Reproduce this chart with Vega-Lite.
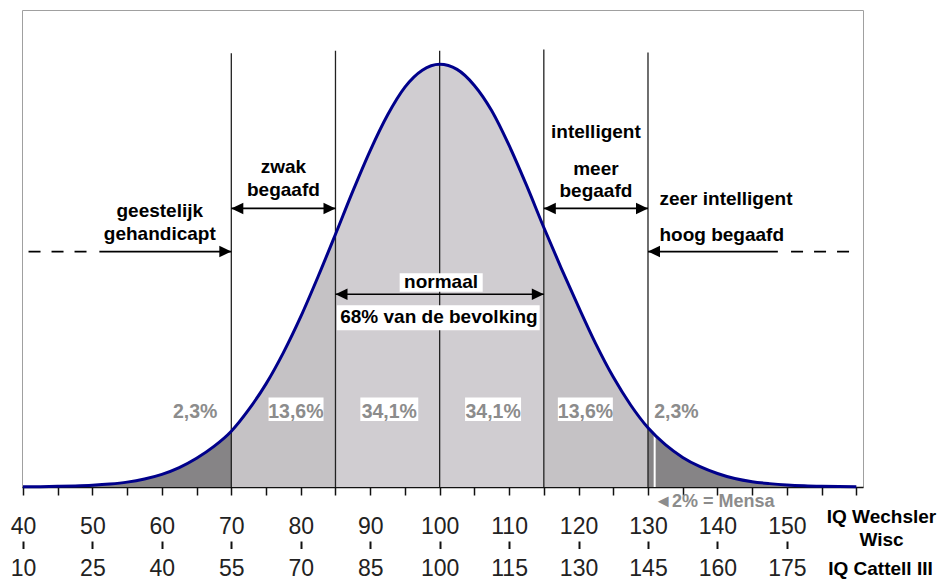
{
  "$schema": "https://vega.github.io/schema/vega-lite/v6.json",
  "width": 841,
  "height": 477,
  "autosize": "none",
  "padding": {"left": 22, "top": 10, "right": 76, "bottom": 92},
  "background": "white",
  "config": {"view": {"stroke": "#a0a0a0", "strokeWidth": 1}},
  "datasets": {
    "curve": [
      {"iq": 40, "h": 0.05}, {"iq": 42.5, "h": 0.08}, {"iq": 45, "h": 0.15}, {"iq": 47.5, "h": 0.25},
      {"iq": 50, "h": 0.42}, {"iq": 52.5, "h": 0.7}, {"iq": 55, "h": 1.15}, {"iq": 57.5, "h": 1.9},
      {"iq": 60, "h": 3.0}, {"iq": 62.5, "h": 4.6}, {"iq": 65, "h": 6.8}, {"iq": 67.5, "h": 9.6},
      {"iq": 70, "h": 13.2}, {"iq": 72.5, "h": 18.3}, {"iq": 75, "h": 24.4}, {"iq": 77.5, "h": 31.8},
      {"iq": 80, "h": 40.3}, {"iq": 82.5, "h": 49.8}, {"iq": 85, "h": 59.8}, {"iq": 87.5, "h": 70.0},
      {"iq": 90, "h": 79.6}, {"iq": 92.5, "h": 88.0}, {"iq": 95, "h": 94.6}, {"iq": 97.5, "h": 98.6},
      {"iq": 100, "h": 100}, {"iq": 102.5, "h": 98.8}, {"iq": 105, "h": 95.0}, {"iq": 107.5, "h": 89.0},
      {"iq": 110, "h": 80.8}, {"iq": 112.5, "h": 71.4}, {"iq": 115, "h": 61.4}, {"iq": 117.5, "h": 51.8},
      {"iq": 120, "h": 42.6}, {"iq": 122.5, "h": 33.8}, {"iq": 125, "h": 26.0}, {"iq": 127.5, "h": 19.4},
      {"iq": 130, "h": 14.0}, {"iq": 132.5, "h": 10.0}, {"iq": 135, "h": 7.0}, {"iq": 137.5, "h": 4.8},
      {"iq": 140, "h": 3.2}, {"iq": 142.5, "h": 2.0}, {"iq": 145, "h": 1.25}, {"iq": 147.5, "h": 0.8},
      {"iq": 150, "h": 0.48}, {"iq": 152.5, "h": 0.28}, {"iq": 155, "h": 0.16}, {"iq": 157.5, "h": 0.09},
      {"iq": 160, "h": 0.05}
    ],
    "dividers": [
      {"iq": 70, "h": 0, "h2": 102.6}, {"iq": 85, "h": 0, "h2": 103.2}, {"iq": 100, "h": 0, "h2": 103.2},
      {"iq": 115, "h": 0, "h2": 103.5}, {"iq": 130, "h": 0, "h2": 102.8}
    ],
    "mensaLine": [{"iq": 130.96, "h": 0, "h2": 12.4}],
    "boxes": [
      {"iq": 94.24, "iq2": 106.2, "h": 46.2, "h2": 50.55},
      {"iq": 85.2, "iq2": 114.4, "h": 37.1, "h2": 43.0},
      {"iq": 75.36, "iq2": 83.28, "h": 15.6, "h2": 21.2},
      {"iq": 88.58, "iq2": 96.92, "h": 15.6, "h2": 21.2},
      {"iq": 103.66, "iq2": 111.72, "h": 15.6, "h2": 21.2},
      {"iq": 117.02, "iq2": 124.94, "h": 15.6, "h2": 21.2}
    ],
    "centerText": [
      {"iq": 77.5, "h": 74.2, "label": "zwak"},
      {"iq": 77.5, "h": 68.8, "label": "begaafd"},
      {"iq": 59.7, "h": 63.9, "label": "geestelijk"},
      {"iq": 59.7, "h": 58.4, "label": "gehandicapt"},
      {"iq": 100.2, "h": 47.0, "label": "normaal"},
      {"iq": 99.9, "h": 38.8, "label": "68% van de bevolking"},
      {"iq": 122.5, "h": 82.5, "label": "intelligent"},
      {"iq": 122.5, "h": 73.8, "label": "meer"},
      {"iq": 122.5, "h": 68.7, "label": "begaafd"}
    ],
    "leftText": [
      {"iq": 131.65, "h": 66.7, "label": "zeer intelligent"},
      {"iq": 131.65, "h": 58.2, "label": "hoog begaafd"}
    ],
    "pctText": [
      {"iq": 64.8, "h": 16.4, "label": "2,3%"},
      {"iq": 79.3, "h": 16.4, "label": "13,6%"},
      {"iq": 92.75, "h": 16.4, "label": "34,1%"},
      {"iq": 107.7, "h": 16.4, "label": "34,1%"},
      {"iq": 121.0, "h": 16.4, "label": "13,6%"},
      {"iq": 134.1, "h": 16.4, "label": "2,3%"}
    ],
    "mensaText": [{"iq": 130.9, "h": -4.66, "label": "◄2% = Mensa"}],
    "arrows": [
      {"iq": 70, "iq2": 85, "h": 65.9},
      {"iq": 115, "iq2": 130, "h": 65.9},
      {"iq": 85, "iq2": 115, "h": 45.6},
      {"iq": 51.0, "iq2": 70, "h": 55.7},
      {"iq": 130, "iq2": 148.7, "h": 55.7}
    ],
    "dashes": [
      {"iq": 40.8, "iq2": 49.3, "h": 55.7},
      {"iq": 150.6, "iq2": 159.0, "h": 55.7}
    ],
    "headsRight": [
      {"iq": 85, "h": 65.9}, {"iq": 70, "h": 55.7}, {"iq": 130, "h": 65.9}, {"iq": 115, "h": 45.6}
    ],
    "headsLeft": [
      {"iq": 70, "h": 65.9}, {"iq": 115, "h": 65.9}, {"iq": 85, "h": 45.6}, {"iq": 130, "h": 55.7}
    ],
    "cattell": [{"iq": 40}, {"iq": 150}]
  },
  "resolve": {"scale": {"x": "independent"}, "axis": {"x": "independent"}},
  "layer": [
    {
      "encoding": {
        "x": {
          "field": "iq", "type": "quantitative",
          "scale": {"domain": [39.86, 160.96], "nice": false, "zero": false},
          "axis": {
            "orient": "bottom",
            "values": [40, 45, 50, 55, 60, 65, 70, 75, 80, 85, 90, 95, 100, 105, 110, 115, 120, 125, 130, 135, 140, 145, 150, 155, 160],
            "labelExpr": "datum.value % 10 === 0 && datum.value <= 150 ? datum.label : ''",
            "labelFont": "Liberation Sans", "labelFontSize": 23, "labelColor": "#222", "labelFontWeight": "normal",
            "labelBaseline": "alphabetic", "labelPadding": 38, "labelFlush": false, "labelOverlap": false, "labelBound": false,
            "ticks": true, "tickSize": 8, "tickWidth": 1.5, "tickColor": "#111", "domainColor": "#111", "domainWidth": 1.5,
            "grid": false,
            "title": ["IQ Wechsler", "Wisc"],
            "titleFont": "Liberation Sans", "titleFontSize": 19, "titleFontWeight": "bold", "titleColor": "#000",
            "titleX": 859, "titleY": 35, "titleAlign": "center", "titleBaseline": "alphabetic", "titleLineHeight": 23.3
          }
        },
        "y": {
          "field": "h", "type": "quantitative",
          "scale": {"domain": [0, 112.85], "nice": false, "zero": true},
          "axis": null
        }
      },
      "layer": [
        {
          "data": {"name": "curve"},
          "transform": [{"filter": "datum.iq <= 70"}],
          "mark": {"type": "area", "interpolate": "monotone", "color": "#868486"}
        },
        {
          "data": {"name": "curve"},
          "transform": [{"filter": "datum.iq >= 70 && datum.iq <= 85"}],
          "mark": {"type": "area", "interpolate": "monotone", "color": "#c5c2c5"}
        },
        {
          "data": {"name": "curve"},
          "transform": [{"filter": "datum.iq >= 85 && datum.iq <= 115"}],
          "mark": {"type": "area", "interpolate": "monotone", "color": "#d0cdd1"}
        },
        {
          "data": {"name": "curve"},
          "transform": [{"filter": "datum.iq >= 115 && datum.iq <= 130"}],
          "mark": {"type": "area", "interpolate": "monotone", "color": "#c5c2c5"}
        },
        {
          "data": {"name": "curve"},
          "transform": [{"filter": "datum.iq >= 130"}],
          "mark": {"type": "area", "interpolate": "monotone", "color": "#868486"}
        },
        {
          "data": {"name": "mensaLine"},
          "mark": {"type": "rule", "color": "#ffffff", "strokeWidth": 2},
          "encoding": {"y2": {"field": "h2"}}
        },
        {
          "data": {"name": "dividers"},
          "mark": {"type": "rule", "color": "#222", "strokeWidth": 1.3},
          "encoding": {"y2": {"field": "h2"}}
        },
        {
          "data": {"name": "curve"},
          "mark": {"type": "line", "interpolate": "monotone", "color": "#00008b", "strokeWidth": 3}
        },
        {
          "data": {"name": "boxes"},
          "mark": {"type": "rect", "color": "#ffffff"},
          "encoding": {"x2": {"field": "iq2"}, "y2": {"field": "h2"}}
        },
        {
          "data": {"name": "centerText"},
          "mark": {"type": "text", "font": "Liberation Sans", "fontSize": 19, "fontWeight": "bold", "color": "#000", "align": "center", "baseline": "alphabetic"},
          "encoding": {"text": {"field": "label"}}
        },
        {
          "data": {"name": "leftText"},
          "mark": {"type": "text", "font": "Liberation Sans", "fontSize": 19, "fontWeight": "bold", "color": "#000", "align": "left", "baseline": "alphabetic"},
          "encoding": {"text": {"field": "label"}}
        },
        {
          "data": {"name": "pctText"},
          "mark": {"type": "text", "font": "Liberation Sans", "fontSize": 19.5, "fontWeight": "bold", "color": "#8c8c8c", "align": "center", "baseline": "alphabetic"},
          "encoding": {"text": {"field": "label"}}
        },
        {
          "data": {"name": "mensaText"},
          "mark": {"type": "text", "font": "Liberation Sans", "fontSize": 18, "fontWeight": "bold", "color": "#8c8c8c", "align": "left", "baseline": "alphabetic"},
          "encoding": {"text": {"field": "label"}}
        },
        {
          "data": {"name": "arrows"},
          "mark": {"type": "rule", "color": "#000", "strokeWidth": 1.7},
          "encoding": {"x2": {"field": "iq2"}}
        },
        {
          "data": {"name": "dashes"},
          "mark": {"type": "rule", "color": "#000", "strokeWidth": 1.7, "strokeDash": [12, 11]},
          "encoding": {"x2": {"field": "iq2"}}
        },
        {
          "data": {"name": "headsRight"},
          "mark": {"type": "point", "shape": "M0,0L-2,-0.95L-2,0.95Z", "filled": true, "size": 144, "color": "#000", "opacity": 1, "strokeWidth": 0}
        },
        {
          "data": {"name": "headsLeft"},
          "mark": {"type": "point", "shape": "M0,0L2,-0.95L2,0.95Z", "filled": true, "size": 144, "color": "#000", "opacity": 1, "strokeWidth": 0}
        }
      ]
    },
    {
      "data": {"name": "cattell"},
      "mark": {"type": "rule", "opacity": 0},
      "encoding": {
        "x": {
          "field": "iq", "type": "quantitative",
          "scale": {"domain": [39.86, 160.96], "nice": false, "zero": false},
          "axis": {
            "orient": "bottom", "offset": 54, "domain": false,
            "values": [40, 50, 60, 70, 80, 90, 100, 110, 120, 130, 140, 150],
            "labelExpr": "format(10 + (datum.value - 40) * 1.5, 'd')",
            "labelFont": "Liberation Sans", "labelFontSize": 23, "labelColor": "#222", "labelFontWeight": "normal",
            "labelBaseline": "alphabetic", "labelPadding": 26.5, "labelFlush": false, "labelOverlap": false, "labelBound": false,
            "ticks": true, "tickSize": 7.5, "tickWidth": 2, "tickColor": "#111", "tickOpacity": 1, "grid": false,
            "title": "IQ Cattell III",
            "titleFont": "Liberation Sans", "titleFontSize": 19, "titleFontWeight": "bold", "titleColor": "#000",
            "titleX": 858, "titleY": 33.3, "titleAlign": "center", "titleBaseline": "alphabetic"
          }
        }
      }
    }
  ]
}
